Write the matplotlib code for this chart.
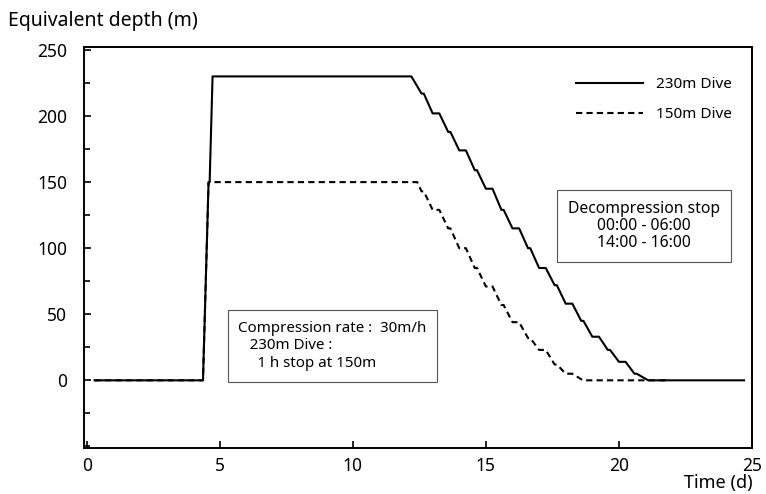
import matplotlib
matplotlib.use('Agg')
import matplotlib.pyplot as plt
from matplotlib.ticker import MultipleLocator

plt.rcParams['font.family'] = ['Noto Sans', 'DejaVu Sans']

# 230m dive: time (d), equivalent depth (m)
t_230 = [0.3, 4.37, 4.58, 4.62, 4.73, 12.2, 12.583, 12.667, 13.0, 13.25, 13.583, 13.667,
         14.0, 14.25, 14.583, 14.667, 15.0, 15.25, 15.583, 15.667, 16.0, 16.25,
         16.583, 16.667, 17.0, 17.25, 17.583, 17.667, 18.0, 18.25, 18.583, 18.667,
         19.0, 19.25, 19.583, 19.667, 20.0, 20.25, 20.583, 20.667, 21.1, 24.7]
d_230 = [0, 0, 150, 150, 230, 230, 217, 217, 202, 202, 188, 188,
         174, 174, 159, 159, 145, 145, 129, 129, 115, 115,
         100, 100, 85, 85, 72, 72, 58, 58, 45, 45,
         33, 33, 23, 23, 14, 14, 5, 5, 0, 0]

# 150m dive
t_150 = [0.3, 4.37, 4.58, 12.42, 12.583, 12.667, 13.0, 13.25, 13.583, 13.667,
         14.0, 14.25, 14.583, 14.667, 15.0, 15.25, 15.583, 15.667, 16.0, 16.25,
         16.583, 16.667, 17.0, 17.25, 17.583, 17.667, 18.0, 18.25, 18.65, 21.8]
d_150 = [0, 0, 150, 150, 143, 143, 129, 129, 115, 115,
         100, 100, 85, 85, 71, 71, 57, 57, 44, 44,
         32, 32, 23, 23, 12, 12, 5, 5, 0, 0]

fig = plt.figure(figsize=(7.66, 4.94), dpi=100)
ax = fig.add_axes([0.1097, 0.0937, 0.872, 0.8105])

ax.plot(t_230, d_230, color='black', linewidth=1.5, label='230m Dive')
ax.plot(t_150, d_150, color='black', linewidth=1.5, linestyle=(0, (3, 2)), label='150m Dive')

ax.set_xlim(-0.1, 25)
ax.set_ylim(-51, 252)
ax.xaxis.set_major_locator(MultipleLocator(5))
ax.yaxis.set_minor_locator(MultipleLocator(25))
ax.set_yticks([0, 50, 100, 150, 200, 250])
ax.tick_params(direction='in', length=5, width=1.2, labelsize=12.5)
ax.tick_params(axis='y', pad=12)
ax.tick_params(axis='x', pad=7)
ax.tick_params(which='minor', direction='in', length=4, width=1.2)
ax.tick_params(top=False, right=False)
for s in ax.spines.values():
    s.set_linewidth(1.4)

fig.text(0.01, 0.958, 'Equivalent depth (m)', fontsize=14, ha='left', va='center')
fig.text(0.982, 0.004, 'Time (d)', fontsize=13, ha='right', va='bottom')

ax.legend(loc='upper right', frameon=False, fontsize=11, handlelength=4.4,
          labelspacing=1.0, bbox_to_anchor=(0.99, 0.96))

box = dict(boxstyle='square,pad=0.7', facecolor='white', edgecolor='#555555', linewidth=0.8)
ax.text(20.95, 117, 'Decompression stop\n00:00 - 06:00\n14:00 - 16:00', fontsize=11.3,
        ha='center', va='center', multialignment='center', linespacing=1.1, bbox=box)
ax.text(5.7, 26, 'Compression rate :  30m/h\n   230m Dive :\n     1 h stop at 150m', fontsize=10.9,
        ha='left', va='center', linespacing=1.25, bbox=box)

fig.savefig('out.png', dpi=100)
